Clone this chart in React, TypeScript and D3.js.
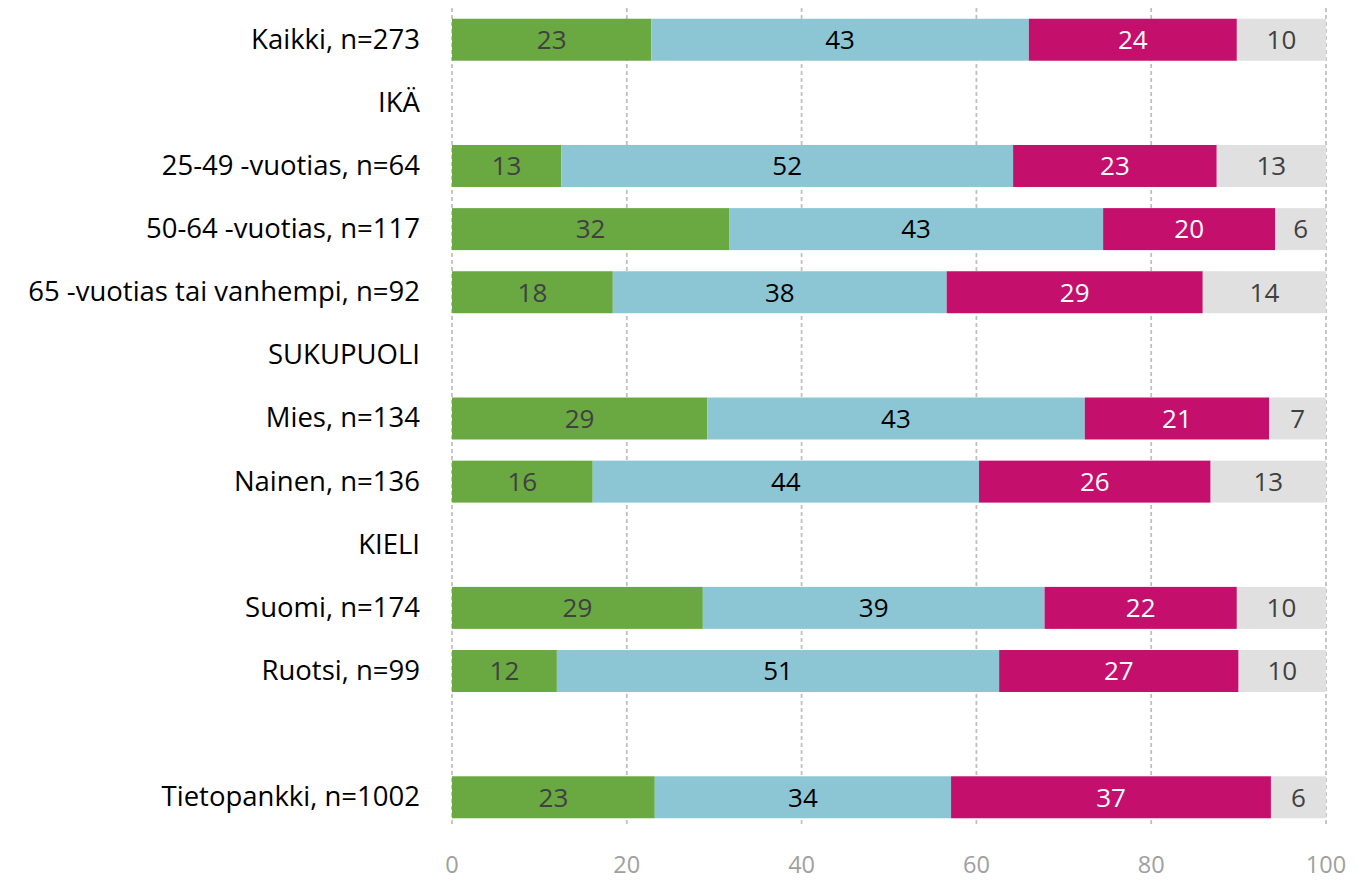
import React, { useEffect, useRef } from 'react';
import * as d3 from 'd3';

const categories = [
  'Kaikki, n=273',
  'IKÄ',
  '25-49 -vuotias, n=64',
  '50-64 -vuotias, n=117',
  '65 -vuotias tai vanhempi, n=92',
  'SUKUPUOLI',
  'Mies, n=134',
  'Nainen, n=136',
  'KIELI',
  'Suomi, n=174',
  'Ruotsi, n=99',
  '',
  'Tietopankki, n=1002',
];

// null = heading / empty row without a bar
const green = [22.8, null, 12.5, 31.7, 18.4, null, 29.2, 16.1, null, 28.7, 12.0, null, 23.2];
const blue = [43.2, null, 51.7, 42.8, 38.2, null, 43.2, 44.2, null, 39.1, 50.6, null, 33.9];
const red = [23.8, null, 23.3, 19.7, 29.3, null, 21.1, 26.5, null, 22.0, 27.4, null, 36.6];
const grey = [10.2, null, 12.5, 5.8, 14.1, null, 6.5, 13.2, null, 10.2, 10.0, null, 6.3];

const labelsGreen = [23, null, 13, 32, 18, null, 29, 16, null, 29, 12, null, 23];
const labelsBlue = [43, null, 52, 43, 38, null, 43, 44, null, 39, 51, null, 34];
const labelsRed = [24, null, 23, 20, 29, null, 21, 26, null, 22, 27, null, 37];
const labelsGrey = [10, null, 13, 6, 14, null, 7, 13, null, 10, 10, null, 6];

const xTicks = [0, 20, 40, 60, 80, 100];

const series = [
  { values: green, labels: labelsGreen, fill: '#6AA842', text: '#404040' },
  { values: blue, labels: labelsBlue, fill: '#8CC6D4', text: '#000000' },
  { values: red, labels: labelsRed, fill: '#C40F6D', text: '#ffffff' },
  { values: grey, labels: labelsGrey, fill: '#E0E0E0', text: '#404040' },
];

const FONT = '"Open Sans", Lato, sans-serif';

const App = () => {
  const ref = useRef<SVGSVGElement>(null);

  useEffect(() => {
    draw(ref.current);
  }, []);

  return (
    <svg
      ref={ref}
      width={1358}
      height={880}
      style={{ position: 'absolute', left: 0, top: 0, background: '#fff' }}
    ></svg>
  );
};

function draw(el: SVGSVGElement | null) {
  if (!el) return;
  const svg = d3.select(el);
  svg.selectAll('*').remove();

  const x = d3.scaleLinear().domain([0, 100]).range([452, 1326]);
  const y = d3.scaleBand<number>().domain(d3.range(categories.length)).range([8, 829]).paddingInner(0.335).paddingOuter(0.17);

  // grid
  svg
    .append('g')
    .selectAll('line')
    .data(xTicks)
    .join('line')
    .attr('x1', (d) => x(d))
    .attr('x2', (d) => x(d))
    .attr('y1', 8)
    .attr('y2', 827)
    .attr('stroke', '#BFBFBF')
    .attr('stroke-width', 1.75)
    .attr('stroke-dasharray', '4,3');

  // tick labels
  svg
    .append('g')
    .selectAll('text')
    .data(xTicks)
    .join('text')
    .attr('x', (d) => x(d))
    .attr('y', 873)
    .attr('text-anchor', 'middle')
    .attr('font-family', FONT)
    .attr('font-size', 23.5)
    .attr('fill', '#A0A0A0')
    .text((d) => d);

  // category labels
  svg
    .append('g')
    .selectAll('text')
    .data(categories)
    .join('text')
    .attr('x', 420)
    .attr('y', (_, i) => (y(i) as number) + y.bandwidth() / 2 - 1)
    .attr('dy', '0.36em')
    .attr('text-anchor', 'end')
    .attr('font-family', FONT)
    .attr('font-size', 27.5)
    .attr('fill', '#000')
    .text((d) => d);

  // stacked bars
  const starts = categories.map(() => 0);
  series.forEach((s) => {
    const g = svg.append('g');
    s.values.forEach((v, i) => {
      if (v == null) return;
      const x0 = starts[i];
      const x1 = x0 + v;
      starts[i] = x1;
      const by = y(i) as number;
      g.append('rect')
        .attr('x', x(x0))
        .attr('y', by)
        .attr('width', x(x1) - x(x0))
        .attr('height', y.bandwidth())
        .attr('fill', s.fill);
      g.append('text')
        .attr('x', (x(x0) + x(x1)) / 2)
        .attr('y', by + y.bandwidth() / 2)
        .attr('dy', '0.36em')
        .attr('text-anchor', 'middle')
        .attr('font-family', FONT)
        .attr('font-size', 26)
        .attr('fill', s.text)
        .text(s.labels[i] as number);
    });
  });
}

export default App;
